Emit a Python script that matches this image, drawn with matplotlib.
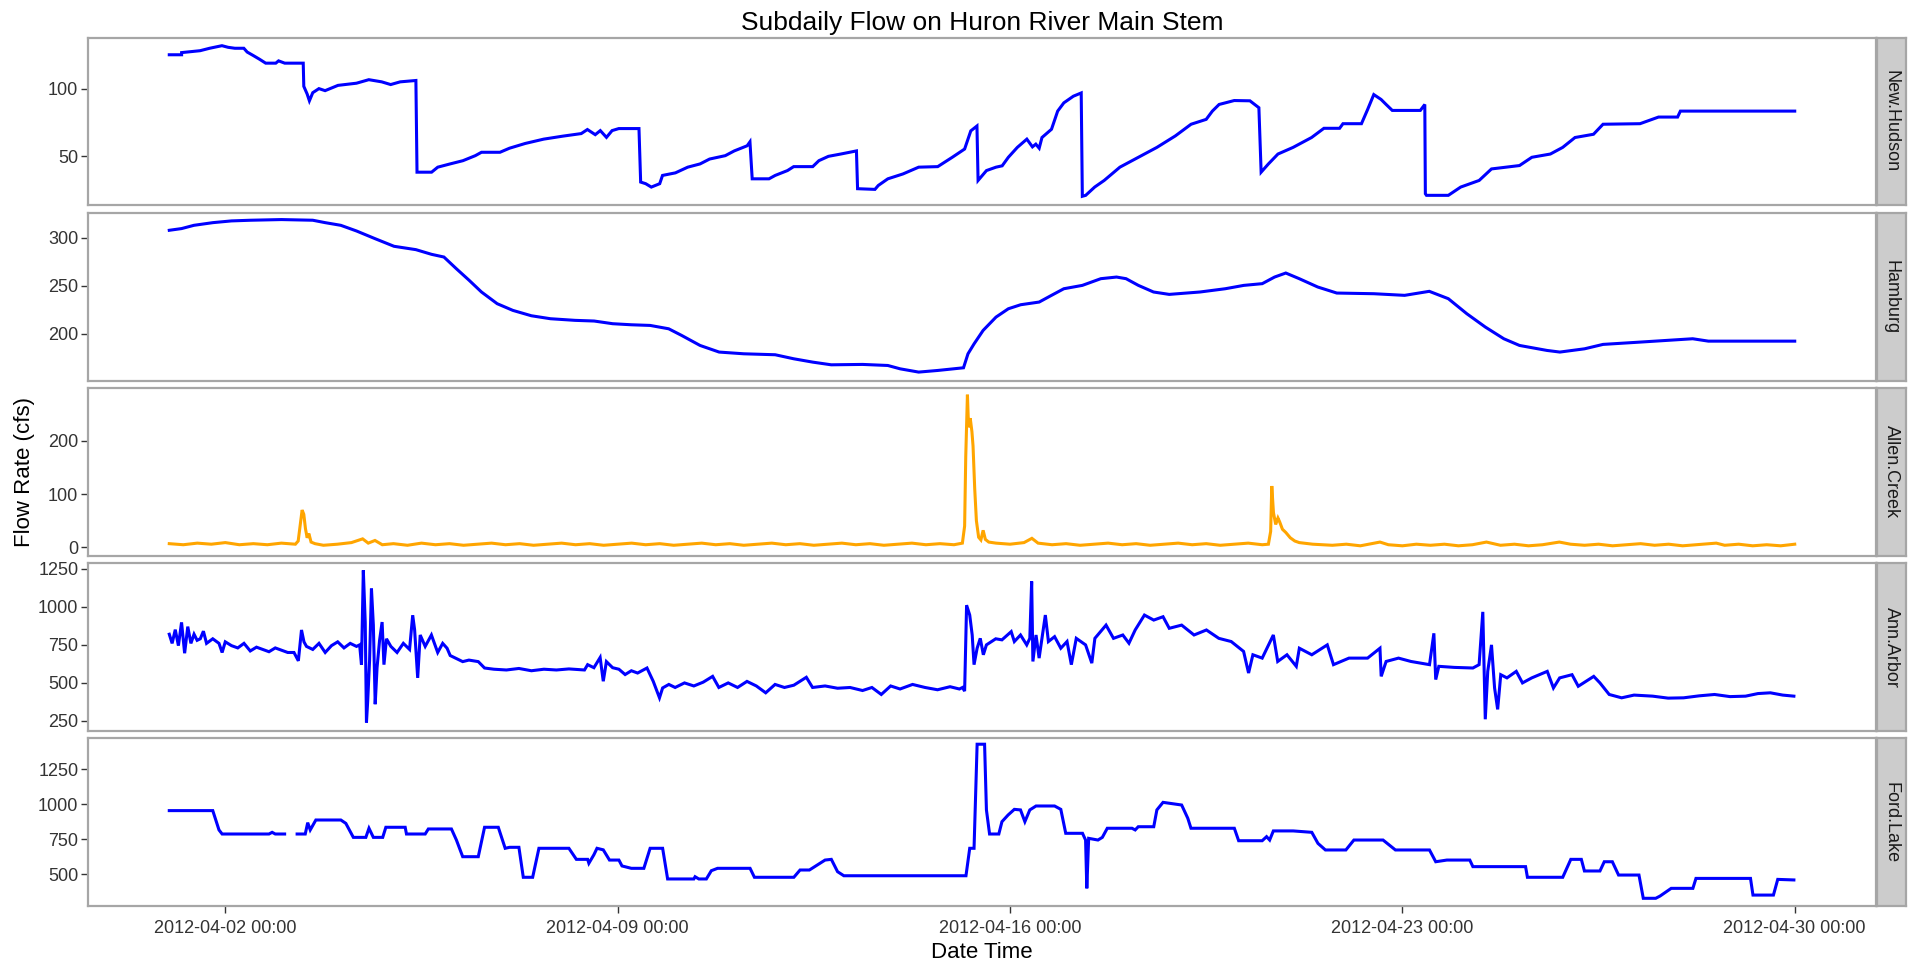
import matplotlib
matplotlib.use("Agg")
import matplotlib.pyplot as plt
import matplotlib.dates as mdates
import numpy as np
from datetime import datetime

plt.rcParams['font.family'] = ['Liberation Sans', 'DejaVu Sans']

# ---------------- data (days after 2012-04-01 00:00, flow in cfs) ----------------
nh_day = [0.00, 0.22, 0.22, 0.55, 0.72, 0.94, 1.05, 1.17, 1.33, 1.39, 1.50, 1.61, 1.72, 1.90, 1.95, 2.06,
          2.39, 2.40, 2.46, 2.50, 2.56, 2.67, 2.78, 3.01, 3.34, 3.56, 3.79, 3.95, 4.12, 4.40, 4.42, 4.68,
          4.79, 5.01, 5.24, 5.46, 5.57, 5.90, 6.07, 6.35, 6.68, 7.02, 7.35, 7.46, 7.60, 7.69, 7.80, 7.90,
          8.02, 8.38, 8.41, 8.50, 8.60, 8.70, 8.75, 8.80, 9.03, 9.25, 9.47, 9.64, 9.92, 10.08, 10.31, 10.36,
          10.40, 10.70, 10.81, 11.03, 11.14, 11.48, 11.59, 11.76, 11.98, 12.26, 12.28, 12.59, 12.65, 12.82,
          13.09, 13.37, 13.71, 13.97, 14.19, 14.30, 14.41, 14.43, 14.58, 14.75, 14.86, 14.97, 15.13, 15.30,
          15.40, 15.46, 15.52, 15.57, 15.74, 15.85, 15.96, 16.13, 16.27, 16.29, 16.35, 16.51, 16.68, 16.96,
          17.29, 17.62, 17.95, 18.23, 18.50, 18.61, 18.73, 19.00, 19.28, 19.44, 19.48, 19.61, 19.78, 20.05,
          20.38, 20.60, 20.88, 20.94, 21.27, 21.38, 21.49, 21.62, 21.71, 21.82, 22.32, 22.40, 22.41, 22.43,
          22.82, 23.04, 23.37, 23.59, 24.09, 24.31, 24.64, 24.86, 25.08, 25.41, 25.58, 26.24, 26.57, 26.91,
          26.96, 29.00]
nh_flow = [125, 125, 126.6, 128, 129.8, 131.7, 130.5, 129.8, 129.8, 127, 124.4, 121.7, 118.8, 118.8, 120.5, 118.8,
           118.8, 101.7, 96, 91, 97, 100, 98.5, 102.4, 104, 106.6, 105, 103, 105, 106, 38.3, 38.3,
           42, 44.4, 46.8, 50.5, 53, 53, 56, 59.5, 62.7, 64.9, 66.8, 69.8, 66, 69, 64, 69,
           70.5, 70.5, 31, 29.8, 27.3, 29, 29.8, 35.9, 37.8, 42, 44.4, 48, 50.5, 54, 57.8, 60.7,
           33.4, 33.4, 35.9, 39.5, 42.4, 42.4, 46.8, 50, 51.7, 54, 26.1, 25.6, 28.5, 33.4,
           37, 42, 42.4, 49.3, 55.4, 68.8, 72.4, 32.2, 39.5, 42, 43, 49.3, 56.6, 62.7,
           57, 59, 56, 63.9, 70, 83.4, 89.5, 94.4, 96.8, 20.5, 21.2, 27.3, 32.2, 42,
           49.3, 56.6, 65.1, 73.7, 77.3, 83.4, 88.3, 91.2, 91, 85.9, 38.3, 44.4, 51.7, 56.6,
           63.9, 70.7, 70.7, 74.1, 74.1, 84.6, 95.6, 92, 88.3, 83.9, 83.9, 88.3, 22.4, 21.2,
           21.2, 27.3, 32.2, 40.7, 43.2, 49.3, 51.7, 56.6, 63.9, 66.3, 73.7, 74.1, 79, 79,
           83.4, 83.4]

hb_day = [0.00, 0.22, 0.44, 0.78, 1.11, 1.45, 2.00, 2.56, 2.78, 3.06, 3.34, 3.67, 4.01, 4.40, 4.68, 4.90,
          5.12, 5.35, 5.57, 5.85, 6.13, 6.46, 6.80, 7.24, 7.58, 7.91, 8.24, 8.58, 8.91, 9.14, 9.47, 9.81,
          10.25, 10.81, 11.14, 11.48, 11.81, 12.37, 12.82, 13.04, 13.37, 13.71, 14.17, 14.25, 14.36, 14.52,
          14.75, 14.97, 15.19, 15.52, 15.74, 15.96, 16.29, 16.62, 16.90, 17.07, 17.29, 17.56, 17.84, 18.39,
          18.84, 19.17, 19.50, 19.72, 19.92, 20.16, 20.49, 20.83, 21.49, 22.04, 22.48, 22.82, 23.15, 23.48,
          23.81, 24.09, 24.58, 24.81, 25.25, 25.58, 26.24, 27.18, 27.46, 29.00]
hb_flow = [308, 309.8, 313.2, 316, 317.8, 318.5, 319.2, 318.5, 316, 313.2, 307.3, 299.3, 291.3, 287.8, 282.9, 280.1,
           268, 255.8, 243.6, 231.4, 224.4, 218.8, 215.7, 214, 213.3, 210.5, 209.4, 208.7, 205.2, 198.3, 187.8, 180.9,
           179.1, 178.1, 173.9, 170.4, 167.6, 168, 166.9, 163.4, 160, 161.7, 164.5, 179.1, 189.6, 203.5,
           217.4, 226.1, 230.3, 233.1, 240.1, 247, 250.5, 257.5, 259.2, 257.5, 250.5, 243.6, 241.1, 243.6,
           247, 250.5, 252.3, 259.2, 263.4, 257.5, 248.8, 242.5, 241.8, 240.1, 244.3, 236.6, 220.9, 207,
           194.8, 187.8, 182.6, 180.9, 184.3, 188.9, 191.3, 194.8, 192.3, 192.3]

ac_day = [0.00, 0.25, 0.50, 0.75, 1.00, 1.25, 1.50, 1.75, 2.00, 2.25,
          2.30, 2.34, 2.37, 2.40, 2.43, 2.46, 2.49, 2.53, 2.60,
          2.75, 3.00, 3.25, 3.45, 3.55, 3.67, 3.80, 4.00, 4.25, 4.50, 4.75, 5.00, 5.25, 5.50, 5.75,
          6.00, 6.25, 6.50, 6.75, 7.00, 7.25, 7.50, 7.75, 8.00, 8.25, 8.50, 8.75, 9.00, 9.25, 9.50, 9.75,
          10.00, 10.25, 10.50, 10.75, 11.00, 11.25, 11.50, 11.75, 12.00, 12.25, 12.50, 12.75, 13.00, 13.25,
          13.50, 13.75, 14.00, 14.15,
          14.19, 14.21, 14.24, 14.26, 14.29, 14.32, 14.34, 14.37, 14.40, 14.44, 14.48, 14.52, 14.56, 14.62, 14.75,
          15.00, 15.25, 15.39, 15.50, 15.75, 16.00, 16.25, 16.50, 16.75, 17.00, 17.25, 17.50, 17.75, 18.00,
          18.25, 18.50, 18.75, 19.00, 19.25, 19.50,
          19.61, 19.65, 19.67, 19.70, 19.74, 19.78, 19.81, 19.86, 19.92, 20.00, 20.08, 20.16,
          20.40, 20.75, 21.00, 21.25, 21.60, 21.75, 22.00, 22.25, 22.50, 22.75, 23.00, 23.25, 23.50, 23.75,
          24.00, 24.25, 24.50, 24.80, 25.00, 25.25, 25.50, 25.75, 26.00, 26.25, 26.50, 26.75, 27.00, 27.25,
          27.60, 27.75, 28.00, 28.25, 28.50, 28.75, 29.00]
ac_flow = [7, 5, 8, 6, 9, 5, 7, 5, 8, 6,
           12, 45, 70, 62, 35, 18, 26, 10, 7,
           4, 6, 9, 16, 8, 13, 5, 7, 4, 8, 5, 7, 4, 6, 8,
           5, 7, 4, 6, 8, 5, 7, 4, 6, 8, 5, 7, 4, 6, 8, 5,
           7, 4, 6, 8, 5, 7, 4, 6, 8, 5, 7, 4, 6, 8,
           5, 7, 5, 8,
           40, 170, 286, 225, 242, 217, 190, 110, 50, 19, 14, 32, 15, 10, 8,
           6, 9, 17, 8, 5, 7, 4, 6, 8, 5, 7, 4, 6, 8,
           5, 7, 4, 6, 8, 5,
           6, 30, 115, 65, 43, 55, 48, 34, 28, 18, 12, 9,
           6, 4, 6, 3, 10, 5, 3, 6, 4, 6, 3, 5, 10, 4,
           6, 3, 5, 10, 6, 4, 6, 3, 5, 7, 4, 6, 3, 5,
           8, 4, 6, 3, 5, 3, 6]

aa_day = [0.000, 0.051, 0.107, 0.163, 0.219, 0.274, 0.330, 0.386, 0.442, 0.497, 0.553, 0.609, 0.665, 0.776,
          0.887, 0.943, 0.999, 1.110, 1.222, 1.333, 1.445, 1.556, 1.668, 1.779, 1.891, 2.002, 2.114, 2.225,
          2.303, 2.359, 2.403, 2.448, 2.560, 2.671, 2.782, 2.894, 3.005, 3.117, 3.228, 3.340, 3.396, 3.429,
          3.462, 3.496, 3.518, 3.540, 3.574, 3.607, 3.641, 3.674, 3.707, 3.752, 3.797, 3.830, 3.875, 3.953,
          4.064, 4.176, 4.287, 4.343, 4.377, 4.432, 4.477, 4.566, 4.677, 4.789, 4.878, 4.956, 5.012, 5.123,
          5.235, 5.346, 5.513, 5.625, 5.792, 6.015, 6.238, 6.461, 6.684, 6.907, 7.130, 7.408, 7.464, 7.576,
          7.687, 7.743, 7.799, 7.910, 8.022, 8.133, 8.244, 8.356, 8.523, 8.635, 8.746, 8.802, 8.913, 9.025,
          9.192, 9.359, 9.526, 9.694, 9.805, 9.972, 10.139, 10.307, 10.474, 10.641, 10.808, 10.975, 11.143,
          11.366, 11.477, 11.700, 11.923, 12.146, 12.369, 12.536, 12.703, 12.870, 13.038, 13.261, 13.484,
          13.707, 13.930, 14.097, 14.152, 14.190,
          14.225, 14.281, 14.325, 14.358, 14.413, 14.469, 14.524, 14.579, 14.745, 14.856, 15.021, 15.077,
          15.187, 15.298, 15.353, 15.386, 15.408, 15.464, 15.519, 15.630, 15.685, 15.795, 15.906, 16.017,
          16.094, 16.182, 16.348, 16.459, 16.514, 16.713, 16.846, 17.012, 17.122, 17.233, 17.398, 17.564,
          17.730, 17.841, 18.062, 18.283, 18.504, 18.725, 18.946, 19.167, 19.256, 19.333, 19.499, 19.698,
          19.776, 19.941, 20.107, 20.162, 20.384, 20.660, 20.771, 21.047, 21.379, 21.600, 21.622, 21.710,
          21.931, 22.153, 22.484, 22.562, 22.595, 22.650, 22.926, 23.258, 23.369, 23.435, 23.479, 23.523,
          23.590, 23.645, 23.700, 23.755, 23.866, 24.032, 24.143, 24.308, 24.585, 24.695, 24.806, 25.027,
          25.138, 25.414, 25.525, 25.690, 25.912, 26.133, 26.465, 26.741, 27.017, 27.294, 27.570, 27.846,
          28.123, 28.344, 28.565, 28.786, 28.985]
aa_flow = [820, 760, 850, 745, 898, 695, 870, 760, 820, 780, 790, 840, 760, 790,
           760, 700, 770, 745, 730, 760, 710, 735, 720, 705, 730, 715, 700, 700,
           645, 848, 770, 740, 720, 760, 700, 745, 770, 730, 760, 740, 750, 620,
           1240, 900, 240, 380, 650, 1120, 880, 360, 600, 780, 900, 620, 790, 740,
           700, 760, 720, 945, 850, 533, 815, 740, 815, 700, 760, 728, 680, 660,
           640, 650, 640, 598, 590, 585, 595, 580, 590, 585, 592, 585, 620, 600,
           667, 511, 640, 600, 590, 555, 580, 565, 598, 510, 402, 467, 490, 470,
           500, 480, 505, 543, 470, 500, 470, 510, 480, 435, 490, 470, 485,
           537, 470, 480, 465, 470, 450, 470, 424, 480, 460, 490, 470,
           455, 475, 460, 470, 446,
           1011, 946, 815, 620, 728, 793, 685, 750, 790, 783, 837, 772,
           815, 750, 793, 1167, 641, 815, 663, 946, 772, 804, 728, 772,
           620, 793, 750, 630, 793, 880, 793, 815, 761, 848, 946, 913,
           935, 859, 880, 815, 848, 793, 772, 707, 565, 685, 663, 815,
           641, 685, 609, 728, 685, 750, 620, 663, 663, 728, 543, 641,
           663, 641, 620, 826, 522, 609, 602, 598, 620, 967, 261, 576,
           750, 467, 326, 554, 533, 576, 500, 533, 576, 467, 533, 554,
           478, 543, 500, 424, 402, 420, 413, 400, 402, 415, 424, 410,
           413, 430, 435, 420, 413]

fl_day = [0.000, 0.776, 0.887, 0.943, 1.779, 1.835, 1.891, 2.002, 2.058, 2.170, 2.281, 2.426, 2.470, 2.515,
          2.615, 3.061, 3.150, 3.284, 3.507, 3.563, 3.641, 3.808, 3.864, 4.209, 4.232, 4.566, 4.622, 5.034,
          5.123, 5.235, 5.513, 5.625, 5.870, 5.993, 6.071, 6.238, 6.316, 6.483, 6.595, 7.130, 7.263, 7.464,
          7.486, 7.576, 7.631, 7.743, 7.854, 8.022, 8.077, 8.244, 8.467, 8.579, 8.802, 8.891, 9.359, 9.381,
          9.448, 9.582, 9.671, 9.782, 10.362, 10.440, 11.143, 11.254, 11.421, 11.700, 11.812, 11.923, 12.035,
          14.214, 14.281, 14.358, 14.413, 14.546, 14.579, 14.635, 14.800, 14.856, 14.966, 15.077, 15.187,
          15.265, 15.353, 15.464, 15.795, 15.906, 15.994, 16.293, 16.348, 16.370, 16.403, 16.569, 16.647,
          16.735, 17.177, 17.233, 17.288, 17.564, 17.620, 17.730, 18.062, 18.172, 18.228, 19.002, 19.079,
          19.499, 19.577, 19.632, 19.698, 20.052, 20.384, 20.494, 20.627, 20.992, 21.135, 21.655, 21.876,
          22.484, 22.595, 22.794, 23.203, 23.258, 24.198, 24.231, 24.861, 25.005, 25.193, 25.248, 25.525,
          25.602, 25.746, 25.857, 26.221, 26.298, 26.520, 26.597, 26.796, 27.183, 27.238, 28.211, 28.255,
          28.620, 28.697, 28.985]
fl_flow = [955, 955, 817, 788, 788, 800, 788, 788, 788, np.nan, 788, 788, 869, 817,
           888, 888, 864, 764, 764, 829, 764, 764, 836, 836, 788, 788, 824, 824,
           745, 626, 626, 836, 836, 686, 693, 693, 479, 479, 686, 686, 607, 607,
           579, 640, 686, 675, 602, 602, 560, 543, 543, 686, 686, 467, 467, 483,
           467, 467, 526, 543, 543, 479, 479, 531, 531, 602, 607, 519, 490,
           490, 686, 686, 1429, 1429, 960, 788, 788, 876, 924, 964, 960,
           876, 960, 988, 988, 964, 793, 793, 745, 400, 757, 745, 764,
           829, 829, 817, 840, 840, 960, 1014, 995, 900, 829, 829, 740,
           740, 769, 745, 810, 810, 800, 721, 674, 674, 745, 745, 674,
           674, 590, 602, 602, 555, 555, 479, 479, 607, 607, 524, 524,
           590, 590, 495, 495, 329, 329, 345, 400, 400, 471, 471, 352,
           352, 464, 460]

stations = ["New.Hudson", "Hamburg", "Allen.Creek", "Ann.Arbor", "Ford.Lake"]
series_day = [nh_day, hb_day, ac_day, aa_day, fl_day]
series_flow = [nh_flow, hb_flow, ac_flow, aa_flow, fl_flow]
series_color = ["#0000FF", "#0000FF", "#FFA500", "#0000FF", "#0000FF"]
y_limits = [(13.8, 137.6), (151.2, 326.2), (-15.5, 298.5), (185, 1287), (274, 1471)]
y_ticks = [[50, 100], [200, 250, 300], [0, 100, 200], [250, 500, 750, 1000, 1250], [500, 750, 1000, 1250]]
x_tick_dates = ["2012-04-02 00:00", "2012-04-09 00:00", "2012-04-16 00:00", "2012-04-23 00:00", "2012-04-30 00:00"]

# ---------------- figure ----------------
W, H = 1912, 965
fig = plt.figure(figsize=(W / 100, H / 100), dpi=100)
fig.patch.set_facecolor("white")

t0 = mdates.date2num(datetime(2012, 4, 1))
x_ticks = [mdates.date2num(datetime.strptime(s, "%Y-%m-%d %H:%M")) for s in x_tick_dates]
xmin, xmax = t0 + 0.0, t0 + 29.0
pad = 0.05 * (xmax - xmin)

left, right = 88, 1876
top, bottom = 37.7, 906
gap = 7.5
ph = (bottom - top - 4 * gap) / 5
strip_w = 29
border = "#A6A6A6"
tick_col = "#333333"

for i, name in enumerate(stations):
    ytop = top + i * (ph + gap)
    ax = fig.add_axes([left / W, 1 - (ytop + ph) / H, (right - left) / W, ph / H])
    days = np.array(series_day[i], dtype=float)
    ax.plot(t0 + days, np.array(series_flow[i], dtype=float), color=series_color[i],
            lw=2.2, solid_joinstyle="miter")
    ax.set_xlim(xmin - pad, xmax + pad)
    ax.set_ylim(*y_limits[i])
    ax.set_yticks(y_ticks[i])
    ax.set_yticklabels([str(v) for v in y_ticks[i]])
    for sp in ax.spines.values():
        sp.set_color(border)
        sp.set_linewidth(1.6)
    ax.tick_params(axis="y", length=5, width=1.0, color=tick_col, labelsize=13,
                   labelcolor=tick_col, pad=2)
    if i < len(stations) - 1:
        ax.set_xticks([])
    else:
        ax.set_xticks(x_ticks)
        ax.set_xticklabels(x_tick_dates)
        ax.tick_params(axis="x", length=5, width=1.0, color=tick_col, labelsize=13,
                       labelcolor=tick_col, pad=5)

    sax = fig.add_axes([(right + 1) / W, 1 - (ytop + ph) / H, strip_w / W, ph / H])
    sax.set_facecolor("#CCCCCC")
    sax.set_xticks([])
    sax.set_yticks([])
    for sp in sax.spines.values():
        sp.set_color(border)
        sp.set_linewidth(1.6)
    sax.text(0.5, 0.5, name, rotation=-90, ha="center", va="center", fontsize=13,
             color="#1A1A1A", transform=sax.transAxes)

fig.text((left + right) / 2 / W, 1 - 30 / H, "Subdaily Flow on Huron River Main Stem",
         ha="center", va="baseline", fontsize=19, color="black")
fig.text(25 / W, 1 - 472 / H, "Flow Rate (cfs)", rotation=90, ha="center", va="center",
         fontsize=16, color="black")
fig.text((left + right) / 2 / W, 1 - 952 / H, "Date Time", ha="center", va="center",
         fontsize=16, color="black")

fig.savefig("out.png", dpi=100, facecolor="white")
